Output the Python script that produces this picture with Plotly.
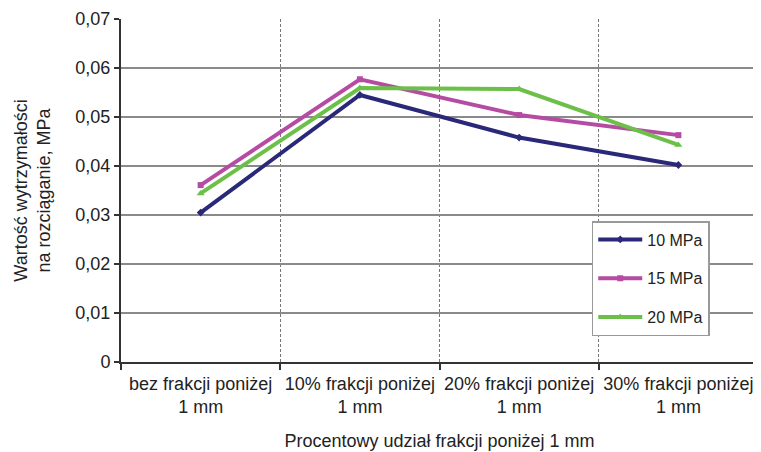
import plotly.graph_objects as go

categories = ["bez frakcji poniżej<br>1 mm", "10% frakcji poniżej<br>1 mm",
              "20% frakcji poniżej<br>1 mm", "30% frakcji poniżej<br>1 mm"]
x_pos = [0.5, 1.5, 2.5, 3.5]
s10 = [0.0305, 0.0545, 0.0458, 0.0402]
s15 = [0.0361, 0.0577, 0.0504, 0.0463]
s20 = [0.0344, 0.0559, 0.0557, 0.0443]
y_ticks = [0, 0.01, 0.02, 0.03, 0.04, 0.05, 0.06, 0.07]
y_ticktext = ["0", "0,01", "0,02", "0,03", "0,04", "0,05", "0,06", "0,07"]

series = [
    ("10 MPa", s10, "#2a2878", "diamond", 6),
    ("15 MPa", s15, "#b54ba3", "square", 6),
    ("20 MPa", s20, "#6cc04a", "triangle-up", 7),
]

fig = go.Figure()
for i, (name, vals, col, sym, sz) in enumerate(series):
    fig.add_trace(go.Scatter(x=x_pos, y=vals, name=name, mode="lines+markers",
                             legendgroup="g%d" % i,
                             line=dict(color=col, width=4),
                             marker=dict(symbol=sym, size=sz, color=col)))

font = "Liberation Sans, Arial, sans-serif"
# page body has an 8px margin, so the figure is drawn 8px in and down
fig.update_layout(
    width=753, height=444,
    margin=dict(l=113, r=3, t=11, b=90, autoexpand=False),
    paper_bgcolor="white", plot_bgcolor="white",
    font=dict(family=font, size=18, color="#222"),
    showlegend=True,
    legend=dict(x=0.739, y=0.411, xanchor="left", yanchor="top",
                bgcolor="white", bordercolor="#999", borderwidth=1.5,
                font=dict(size=16, color="#222"), tracegroupgap=15,
                traceorder="grouped", itemwidth=44),
    xaxis=dict(range=[0, 4], tickmode="array", tickvals=x_pos, ticktext=categories,
               showgrid=False, ticks="", showline=True, linecolor="#333", linewidth=2,
               tickfont=dict(size=18), automargin=False, ticklabelstandoff=4,
               minor=dict(tickmode="array", tickvals=[0, 1, 2, 3, 4], ticks="outside",
                          ticklen=6, tickcolor="#333", tickwidth=2,
                          showgrid=True, gridcolor="#777", griddash="3px,2px", gridwidth=1),
               title=dict(text="Procentowy udział frakcji poniżej 1 mm", font=dict(size=18),
                          standoff=18),
               zeroline=False),
    yaxis=dict(range=[0, 0.07], tickmode="array", tickvals=y_ticks, ticktext=y_ticktext,
               showgrid=True, gridcolor="#8a8a8a", gridwidth=1.5,
               ticks="outside", ticklen=5, tickcolor="#333", tickwidth=2,
               showline=True, linecolor="#333", linewidth=2,
               tickfont=dict(size=18), automargin=False,
               title=dict(text="Wartość wytrzymałości<br>na rozciąganie, MPa", font=dict(size=18),
                          standoff=20),
               zeroline=False),
)

fig.write_html("out.html")
